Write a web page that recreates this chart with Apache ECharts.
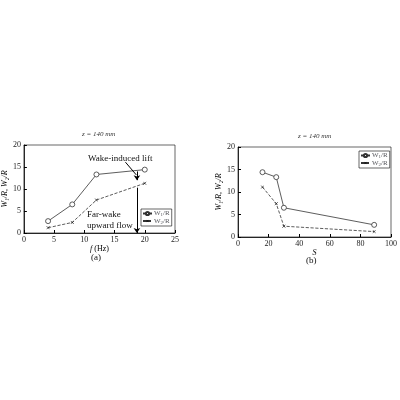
<!DOCTYPE html><html><head><meta charset="utf-8"><script src="https://cdn.jsdelivr.net/npm/echarts@6/dist/echarts.min.js"></script></head><body style="margin:0"><div id="c" style="width:400px;height:400px"></div><script>
const fA=[4,8,12,20];
const w1A=[2.7,6.5,13.3,14.4];
const w2A=[1.2,2.4,7.5,11.3];
const sB=[16,25,30,89];
const w1B=[14.4,13.3,6.5,2.7];
const w2B=[11.1,7.4,2.4,1.2];
const F='Liberation Serif';
const rich={s:{fontSize:5,verticalAlign:'bottom',padding:[3,0,0,0],fontFamily:F},n:{fontSize:7,fontFamily:F}};
const lf=n=>n==='W1'?'{n|W}{s|1}{n|/R}':'{n|W}{s|2}{n|/R}';
const ax=(g,min,max,iv)=>({gridIndex:g,min,max,interval:iv,axisLine:{lineStyle:{color:'#000',width:0.8}},axisTick:{inside:true,length:3,lineStyle:{color:'#000'}},axisLabel:{fontFamily:F,fontSize:8,color:'#222',margin:3},splitLine:{show:false}});
const s1={type:'line',symbol:'circle',symbolSize:5,itemStyle:{color:'#fff',borderColor:'#333',borderWidth:0.8},lineStyle:{color:'#333',width:0.8}};
const s2={type:'line',symbol:'image://data:image/svg+xml;utf8,<svg xmlns="http://www.w3.org/2000/svg" width="10" height="10"><path d="M1 1L9 9M9 1L1 9" stroke="black" stroke-width="1.5"/></svg>',symbolSize:4,lineStyle:{color:'#333',width:0.8,type:'dashed'},itemStyle:{color:'#333'}};
const ml=(pts,sym)=>({silent:true,symbol:sym,symbolSize:5,lineStyle:{color:'#000',width:1,type:'solid'},label:{show:false},data:pts});
const leg={orient:'vertical',itemGap:0,itemWidth:9,itemHeight:4,padding:[1,2,1,1],borderColor:'#000',borderWidth:0.6,backgroundColor:'#fff',textStyle:{rich,padding:[0,0,0,-3]}};
const opt={animation:false,
grid:[{left:22,width:153,top:145,height:88,show:true,borderColor:'#000',borderWidth:0.6},{left:238,width:154,top:147,height:90,show:true,borderColor:'#000',borderWidth:0.6}],
xAxis:[Object.assign(ax(0,0,25,5),{name:'{i|f} (Hz)',nameLocation:'middle',nameGap:12,nameTextStyle:{fontFamily:F,fontSize:8,rich:{i:{fontStyle:'italic',fontFamily:F,fontSize:8}}}}),
Object.assign(ax(1,0,100,20),{name:'S',nameLocation:'middle',nameGap:12,nameTextStyle:{fontFamily:F,fontSize:8,fontStyle:'italic'}})],
yAxis:[Object.assign(ax(0,0,20,5),{name:'W\u2081/R, W\u2082/R',nameLocation:'middle',nameGap:12,nameTextStyle:{fontFamily:F,fontSize:8,fontStyle:'italic'}}),
Object.assign(ax(1,0,20,5),{name:'W\u2081/R, W\u2082/R',nameLocation:'middle',nameGap:12,nameTextStyle:{fontFamily:F,fontSize:8,fontStyle:'italic'}})],
legend:[Object.assign({data:['W1','W2'],left:141,top:209,formatter:lf},leg),
Object.assign({data:['W1b','W2b'],left:359,top:151,formatter:n=>lf(n.slice(0,2))},leg)],
series:[
Object.assign({},s1,{name:'W1',xAxisIndex:0,yAxisIndex:0,data:fA.map((x,i)=>[x,w1A[i]]),
markLine:ml([[{coord:[18.7,14]},{coord:[18.7,12]}],[{coord:[16.8,16.1],symbol:'none'},{coord:[18.6,13.2],symbol:'none'}]],['none','arrow'])}),
Object.assign({},s2,{name:'W2',xAxisIndex:0,yAxisIndex:0,data:fA.map((x,i)=>[x,w2A[i]]),
markLine:ml([[{coord:[18.7,10.3]},{coord:[18.7,0]}]],['none','arrow'])}),
Object.assign({},s1,{name:'W1b',xAxisIndex:1,yAxisIndex:1,data:sB.map((x,i)=>[x,w1B[i]])}),
Object.assign({},s2,{name:'W2b',xAxisIndex:1,yAxisIndex:1,data:sB.map((x,i)=>[x,w2B[i]])})],
graphic:[
{type:'text',left:82,top:131,style:{text:'z = 140 mm',font:'italic 7px "Liberation Serif"',fill:'#333'}},
{type:'text',left:298,top:133,style:{text:'z = 140 mm',font:'italic 7px "Liberation Serif"',fill:'#333'}},
{type:'text',left:88,top:154,style:{text:'Wake-induced lift',font:'9px "Liberation Serif"',fill:'#111'}},
{type:'text',left:87,top:209,style:{text:'Far-wake\nupward flow',font:'9px "Liberation Serif"',fill:'#111',lineHeight:11}},
{type:'text',left:91,top:253,style:{text:'(a)',font:'9px "Liberation Serif"',fill:'#111'}},
{type:'text',left:306,top:256,style:{text:'(b)',font:'9px "Liberation Serif"',fill:'#111'}}]};
echarts.init(document.getElementById('c')).setOption(opt);
</script></body></html>
